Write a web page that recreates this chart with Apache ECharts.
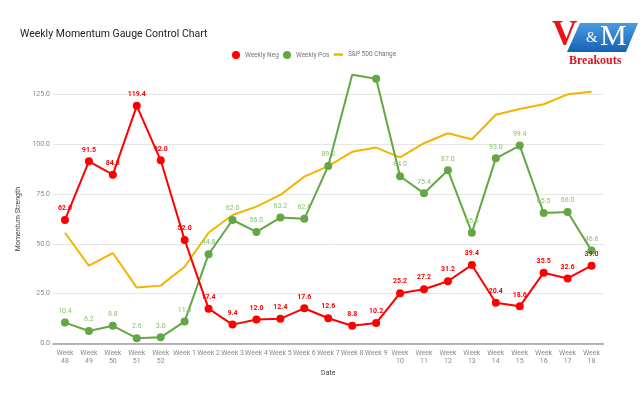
<!DOCTYPE html>
<html>
<head>
<meta charset="utf-8">
<script src="https://cdn.jsdelivr.net/npm/echarts@6/dist/echarts.min.js"></script>
<style>html,body{margin:0;padding:0;background:#fff;}#c{width:640px;height:394px;}</style>
</head>
<body>
<div id="c"></div>
<script>
const categories = ['Week\n48','Week\n49','Week\n50','Week\n51','Week\n52','Week 1','Week 2','Week 3','Week 4','Week 5','Week 6','Week 7','Week 8','Week 9','Week\n10','Week\n11','Week\n12','Week\n13','Week\n14','Week\n15','Week\n16','Week\n17','Week\n18'];
const weeklyNeg = [62.0,91.5,84.8,119.4,92.0,52.0,17.4,9.4,12.0,12.4,17.6,12.6,8.8,10.2,25.2,27.2,31.2,39.4,20.4,18.6,35.5,32.6,39.0];
const weeklyPos = [10.4,6.2,8.8,2.6,3.0,11.0,44.8,62.0,56.0,63.2,62.6,89.2,135.0,133.0,84.0,75.4,87.0,55.6,93.0,99.4,65.5,66.0,46.6];
const spChange = [55.6,39.0,45.4,28.0,29.0,38.5,55.6,64.5,68.7,74.6,83.8,89.1,96.3,98.4,93.5,100.6,105.6,102.6,114.9,117.8,120.2,125.2,126.5];
const yTicks = [0,25,50,75,100,125];

const AXIS_MAX = yTicks[yTicks.length-1];
const posData = weeklyPos.map(v => v > AXIS_MAX ? {value: v, label:{show:false}, symbol: v > 134 ? 'none' : 'circle'} : v);

const chart = echarts.init(document.getElementById('c'), null, {renderer:'canvas'});
const FONT = 'Roboto';
const legendText = {fontFamily: FONT, fontSize: 6.5, color: '#757575'};
chart.setOption({
  animation: false,
  backgroundColor: '#ffffff',
  textStyle: {fontFamily: FONT},
  title: {
    text: 'Weekly Momentum Gauge Control Chart',
    left: 15, top: 24,
    textStyle: {fontFamily: FONT, fontSize: 10.5, fontWeight: 'normal', color: '#222222'}
  },
  legend: [{
    data: [{name:'Weekly Neg', icon:'circle'}],
    left: 232, top: 51, padding: 0,
    itemWidth: 8, itemHeight: 8,
    textStyle: legendText
  },{
    data: [{name:'Weekly Pos', icon:'circle'}],
    left: 283, top: 51, padding: 0,
    itemWidth: 8, itemHeight: 8,
    textStyle: legendText
  },{
    data: [{name:'S&P 500 Change', icon:'rect'}],
    left: 334, top: 51, padding: 0,
    itemWidth: 9, itemHeight: 2.5,
    textStyle: legendText
  }],
  grid: {left: 53, right: 36.5, top: 94.7, bottom: 50.7, containLabel: false},
  xAxis: {
    type: 'category',
    data: categories,
    boundaryGap: true,
    name: 'Date',
    nameLocation: 'middle',
    nameGap: 26,
    nameTextStyle: {fontFamily: FONT, fontSize: 7, color: '#444444'},
    axisLine: {lineStyle: {color: '#9e9e9e', width: 1.5}},
    axisTick: {show: false},
    axisLabel: {interval: 0, fontFamily: FONT, fontSize: 7, color: '#8a8a8a', lineHeight: 8, margin: 6}
  },
  yAxis: {
    type: 'value',
    min: 0, max: AXIS_MAX, interval: 25,
    name: 'Momentum Strength',
    nameLocation: 'middle',
    nameRotate: 90,
    nameGap: 24,
    nameTextStyle: {fontFamily: FONT, fontSize: 7, color: '#444444'},
    axisLine: {show: false},
    axisTick: {show: false},
    axisLabel: {fontFamily: FONT, fontSize: 7, color: '#8a8a8a', margin: 3, formatter: v => v.toFixed(1)},
    splitLine: {lineStyle: {color: '#e6e6e6', width: 1}}
  },
  series: [{
    name: 'Weekly Neg',
    type: 'line',
    data: weeklyNeg,
    z: 4,
    color: '#ff0000',
    lineStyle: {width: 2, color: '#ff0000'},
    symbol: 'circle', symbolSize: 8,
    itemStyle: {color: '#ff0000'},
    label: {show: true, position: 'top', distance: 4, fontFamily: FONT, fontSize: 7, fontWeight: 'bold', color: '#ff0000', formatter: p => Number(p.value).toFixed(1)}
  },{
    name: 'Weekly Pos',
    type: 'line',
    data: posData,
    z: 3,
    clip: false,
    color: '#62a744',
    lineStyle: {width: 2, color: '#62a744'},
    symbol: 'circle', symbolSize: 8,
    itemStyle: {color: '#62a744'},
    label: {show: true, position: 'top', distance: 4, fontFamily: FONT, fontSize: 7, color: '#86c46a', formatter: p => Number(p.value).toFixed(1)}
  },{
    name: 'S&P 500 Change',
    type: 'line',
    data: spChange,
    z: 2,
    clip: false,
    color: '#f2b400',
    lineStyle: {width: 2, color: '#f2b400'},
    symbol: 'none'
  }],
  graphic: [{
    type: 'polygon',
    shape: {points: [[580,23],[638,23],[626,52],[567,52]]},
    style: {fill: new echarts.graphic.LinearGradient(0,0,0,1,[{offset:0,color:'#4a9be2'},{offset:1,color:'#1562b4'}])},
    z: 10
  },{
    type: 'text', left: 552, top: 18,
    style: {text: 'V', font: 'bold 35px "Liberation Serif"', fill: '#e8141c'},
    z: 11
  },{
    type: 'text', left: 586, top: 31,
    style: {text: '&', font: '15px "Liberation Serif"', fill: '#ffffff'},
    z: 11
  },{
    type: 'text', left: 600, top: 22,
    style: {text: 'M', font: '30px "Liberation Serif"', fill: '#ffffff'},
    z: 11
  },{
    type: 'text', left: 569, top: 55,
    style: {text: 'Breakouts', font: 'bold 12px "Liberation Serif"', fill: '#d9141c'},
    z: 11
  }]
});
</script>
</body>
</html>
